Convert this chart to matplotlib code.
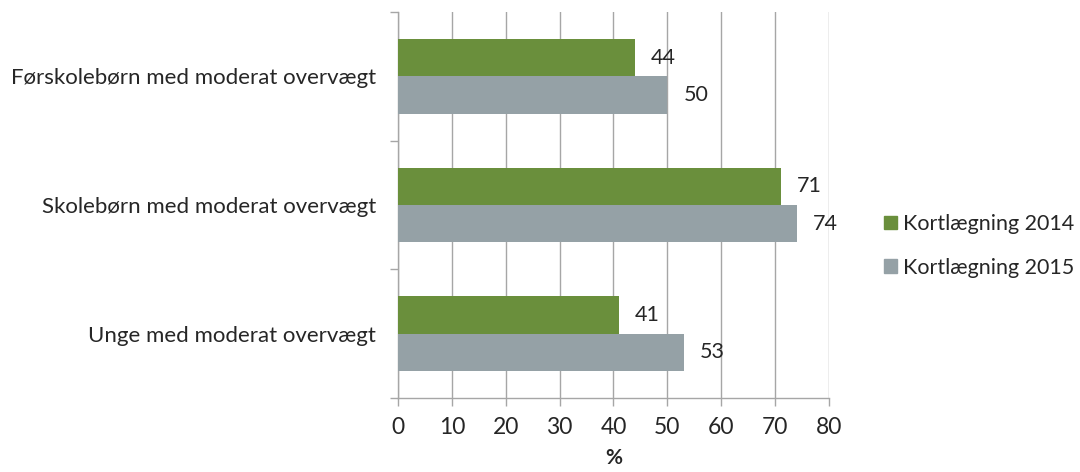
import numpy as np
import matplotlib.pyplot as plt
from matplotlib.patches import Patch

# -------------------------------------------------
# DATA
# -------------------------------------------------

categories = [
    "Førskolebørn med moderat overvægt",
    "Skolebørn med moderat overvægt",
    "Unge med moderat overvægt",
]

values_2014 = [44, 71, 41]
values_2015 = [50, 74, 53]

series_names = ["Kortlægning 2014", "Kortlægning 2015"]

# -------------------------------------------------
# STYLE
# -------------------------------------------------

plt.rcParams["font.family"] = ["Lato", "DejaVu Sans"]

GREEN = "#6a8f3c"
GREY = "#95a1a6"
GRID = "#a6a6a6"
TEXT = "#262626"

fig = plt.figure(figsize=(10.8, 4.72), dpi=100)
ax = fig.add_axes([0.3685, 0.1568, 0.3991, 0.8178])

pos = np.arange(len(categories))[::-1]
h = 0.29

ax.barh(pos + h / 2, values_2014, height=h, color=GREEN, zorder=3)
ax.barh(pos - h / 2, values_2015, height=h, color=GREY, zorder=3)

for p, v in zip(pos, values_2014):
    ax.annotate(str(v), (v, p + h / 2), xytext=(11.5, 0),
                textcoords="offset points", va="center", ha="left",
                fontsize=15.5, color=TEXT, zorder=4)

for p, v in zip(pos, values_2015):
    ax.annotate(str(v), (v, p - h / 2), xytext=(11.5, 0),
                textcoords="offset points", va="center", ha="left",
                fontsize=15.5, color=TEXT, zorder=4)

# -------------------------------------------------
# AXES
# -------------------------------------------------

ax.set_xlim(0, 80)
ax.set_ylim(-0.5, len(categories) - 0.5)

ax.set_xticks(np.arange(0, 81, 10))
ax.tick_params(axis="x", labelsize=16.5, colors=GRID, labelcolor=TEXT,
               length=6, width=1, pad=8)

ax.set_yticks(pos)
ax.set_yticklabels(categories, fontsize=16, color=TEXT)
ax.set_yticks(np.arange(-0.5, len(categories), 1), minor=True)
ax.tick_params(axis="y", which="major", length=0, pad=16)
ax.tick_params(axis="y", which="minor", length=6, width=1, color=GRID)

ax.grid(axis="x", color=GRID, linewidth=1, zorder=0)

for side in ["top", "right"]:
    ax.spines[side].set_visible(False)
for side in ["left", "bottom"]:
    ax.spines[side].set_color(GRID)
    ax.spines[side].set_linewidth(1)

ax.set_xlabel("%", fontsize=15, fontweight="bold", color=TEXT, labelpad=7)

# -------------------------------------------------
# LEGEND
# -------------------------------------------------

handles = [Patch(color=GREEN), Patch(color=GREY)]
fig.legend(handles, series_names, loc="center left",
           bbox_to_anchor=(0.8185, 0.479), frameon=False, fontsize=15.5,
           borderpad=0, borderaxespad=0,
           handlelength=0.6, handleheight=0.6, handletextpad=0.3,
           labelspacing=1.1, labelcolor=TEXT)

fig.savefig("out.png", dpi=100)
